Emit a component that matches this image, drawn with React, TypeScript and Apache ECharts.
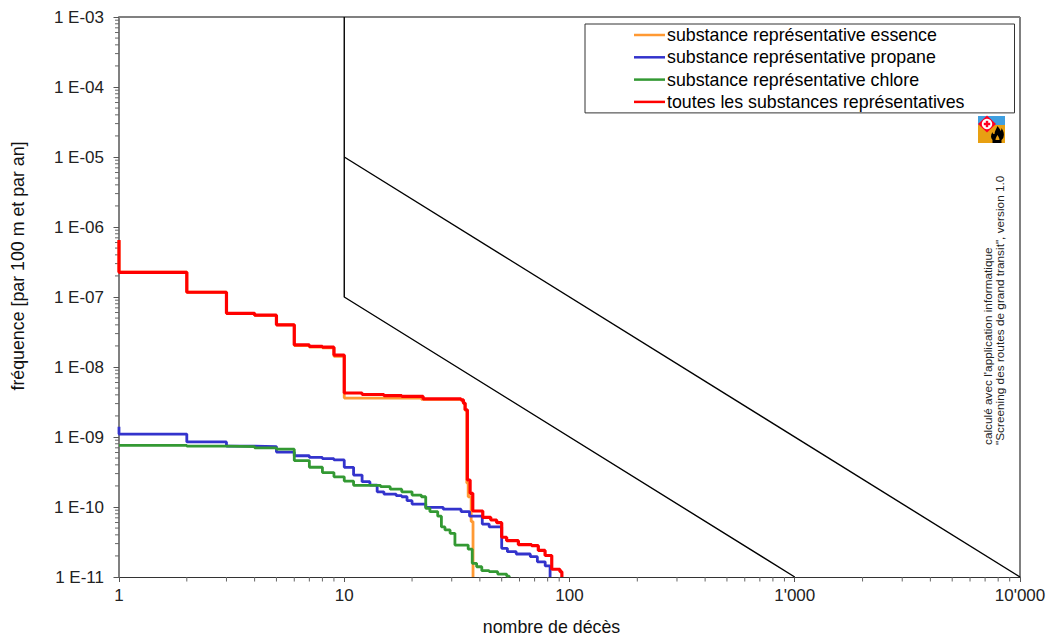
import React, { useEffect, useRef } from "react";
import * as echarts from "echarts";

const xMajorLabels: Record<number, string> = { 0: "1", 1: "10", 2: "100", 3: "1'000", 4: "10'000" };
const xMinorTicks = [2,3,4,5,6,7,8,9,20,30,40,50,60,70,80,90,200,300,400,500,600,700,800,900,2000,3000,4000,5000,6000,7000,8000,9000];
const yMinorTicks = [-11,-10,-9,-8,-7,-6,-5,-4].flatMap((e) => [2,3,4,5,6,7,8,9].map((m) => Number(`${m}e${e}`)));

const names = [
  "substance représentative essence",
  "substance représentative propane",
  "substance représentative chlore",
  "toutes les substances représentatives",
];

const essence = [[1,6.4e-7],[1,2.27e-7],[2,1.17e-7],[3,5.85e-8],[4,5.45e-8],[5,4.0e-8],[6,2.03e-8],[7,1.93e-8],[8,1.88e-8],[9,1.42e-8],[10,3.6e-9],[15,3.6e-9],[22,3.45e-9],[33,3.35e-9],[33.8,3.0e-9],[34.4,2.4e-9],[35,2.2e-10],[35.5,1.4e-10],[36.6,6.2e-11],[37.3,1e-11]];
const propane = [[1,1.4e-9],[1,1.1e-9],[2,8.5e-10],[3,7.4e-10],[4,7.3e-10],[5,6.1e-10],[6,5.4e-10],[7,5.1e-10],[8,4.9e-10],[9,4.7e-10],[10,3.69e-10],[11,2.86e-10],[12,2.3e-10],[13,2.06e-10],[14,1.65e-10],[15,1.53e-10],[17,1.45e-10],[18,1.4e-10],[19,1.23e-10],[20,1.1e-10],[23,9.9e-11],[27.5,9.3e-11],[33,8.6e-11],[36,7.4e-11],[41,5.7e-11],[44,5.2e-11],[50,2.57e-11],[53,2.3e-11],[58,2.13e-11],[67,1.95e-11],[72,1.65e-11],[78,1.44e-11],[82,1e-11]];
const chlore = [[1,7.6e-10],[2,7.4e-10],[3,7.3e-10],[4,7.0e-10],[5,6.7e-10],[6,4.6e-10],[7,3.7e-10],[8,3.1e-10],[9,2.7e-10],[10,2.35e-10],[11,2.04e-10],[14.5,1.95e-10],[16,1.8e-10],[18,1.65e-10],[20,1.48e-10],[22,1.4e-10],[23,9.6e-11],[24,8.6e-11],[26,7.4e-11],[27,5.2e-11],[28,4.7e-11],[29.5,4.2e-11],[31,2.86e-11],[35.5,2.5e-11],[37,1.57e-11],[38.7,1.4e-11],[40.8,1.23e-11],[44,1.19e-11],[48,1.1e-11],[52.6,1.03e-11],[54,1e-11]];
const toutes = [[1,6.5e-7],[1,2.25e-7],[2,1.17e-7],[3,5.85e-8],[4,5.5e-8],[5,4.0e-8],[6,2.07e-8],[7,1.97e-8],[8,1.92e-8],[9,1.48e-8],[10,4.25e-9],[12,4.05e-9],[15,3.9e-9],[18,3.8e-9],[22.4,3.5e-9],[33,3.4e-9],[33.8,3.05e-9],[34.4,2.45e-9],[35.2,2.43e-10],[36.2,1.57e-10],[37.2,8.77e-11],[41.2,7.13e-11],[44.7,6.52e-11],[47.5,5.97e-11],[50,3.7e-11],[52.6,3.3e-11],[59.3,2.9e-11],[67.9,2.8e-11],[72.7,2.4e-11],[77.9,2.03e-11],[83.4,1.29e-11],[90.7,1.19e-11],[92.5,1e-11]];
const limitUpper = [[10,1e-3],[10,1e-7],[1000,1e-11]];
const limitLower = [[10,1e-5],[10000,1e-11]];

const colors = ["#ff9933", "#3333cc", "#339933", "#ff0000"];
const FONT = "'Liberation Sans', Arial, sans-serif";
const FLAME = "M8 0 C9 2 11 3 11 5 C12 4 12 3 12 2 C14 5 15 8 14 11 C14 12 13 13 12 14 L12 17 L3 17 L3 14 C1 12 1 9 3 6 C3 8 4 8 5 8 C5 5 7 3 8 0 Z M6 14 L10 14 C10 12 9 11 8 9 C7 11 6 12 6 14 Z";

export default function App() {
  const ref = useRef<HTMLDivElement>(null);
  useEffect(() => {
    document.body.style.margin = "0";
    echarts.graphic.registerShape("flame", echarts.graphic.extendPath(FLAME, {}));
    const chart = echarts.init(ref.current!, null, { renderer: "svg" });
    const stepSeries = (i: number, data: number[][], width: number) => ({
      type: "line", name: names[i], data, step: "end", showSymbol: false, symbol: "none",
      lineStyle: { color: colors[i], width }, itemStyle: { color: colors[i] }, z: 3 + i, clip: true,
    });
    const limit = (data: number[][]) => ({
      type: "line", data, showSymbol: false, symbol: "none", lineStyle: { color: "#000", width: 1.4 }, z: 2,
    });
    chart.setOption({
      animation: false,
      textStyle: { fontFamily: FONT },
      grid: { left: 119, top: 17, right: 30, bottom: 60, outerBoundsMode: "none" },
      legend: {
        data: names, orient: "vertical", left: 585, top: 24,
        padding: [2, 50, 2, 49], itemWidth: 31, itemHeight: 14, itemGap: 4.3,
        borderColor: "#333", borderWidth: 1, backgroundColor: "#fff",
        icon: "path://M0 6.5 H31 V9 H0 Z",
        textStyle: { fontSize: 17.8, color: "#000", fontFamily: FONT, padding: [0, 0, 0, -3] },
      },
      xAxis: {
        type: "log", logBase: 10, min: 1, max: 10000, interval: 1,
        name: "nombre de décès", nameLocation: "middle", nameGap: 41,
        nameTextStyle: { fontSize: 17.8, color: "#111", fontFamily: FONT, padding: [0, 36, 0, 0] },
        splitLine: { show: false }, minorTick: { show: false },
        axisLine: { show: true, lineStyle: { color: "#333", width: 1.2 } },
        axisTick: { show: true, length: 5, lineStyle: { color: "#555" } },
        axisLabel: {
          fontSize: 17, color: "#222", margin: 10, showMinLabel: true, showMaxLabel: true,
          formatter: (v: number) => xMajorLabels[Math.round(Math.log10(v))] ?? "",
        },
      },
      yAxis: {
        type: "log", logBase: 10, min: 1e-11, max: 1e-3, interval: 1,
        name: "fréquence [par 100 m et par an]", nameLocation: "middle", nameGap: 92,
        nameTextStyle: { fontSize: 17.8, color: "#111", fontFamily: FONT, padding: [0, 0, 0, 62] },
        splitLine: { show: false }, minorTick: { show: false },
        axisLine: { show: true, lineStyle: { color: "#808080", width: 2 } },
        axisTick: { show: true, length: 5.5, lineStyle: { color: "#555" } },
        axisLabel: {
          fontSize: 17, color: "#222", margin: 15, showMinLabel: true, showMaxLabel: true, padding: [0, 0, 2, 0],
          formatter: (v: number) => {
            const e = Math.round(-Math.log10(v));
            return `1 E-${String(e).padStart(2, "0")}`;
          },
        },
      },
      graphic: [
        { type: "line", shape: { x1: 119, y1: 17, x2: 1020, y2: 17 }, style: { stroke: "#808080", lineWidth: 2 }, z: 1 },
        { type: "line", shape: { x1: 1020, y1: 17, x2: 1020, y2: 577 }, style: { stroke: "#808080", lineWidth: 2 }, z: 1 },
        { type: "rect", shape: { x: 978, y: 116, width: 27, height: 9 }, style: { fill: "#3f9fe0" }, z: 10 },
        { type: "rect", shape: { x: 978, y: 125, width: 27, height: 18 }, style: { fill: "#e8a012" }, z: 10 },
        { type: "polygon", shape: { points: [[987, 115.5], [996, 124], [987, 132.5], [978, 124]] }, style: { fill: "#ff0022" }, z: 11 },
        { type: "circle", shape: { cx: 987, cy: 124, r: 5.2 }, style: { fill: "#fff" }, z: 12 },
        { type: "rect", shape: { x: 985.8, y: 120.8, width: 2.4, height: 6.4 }, style: { fill: "#ff0022" }, z: 13 },
        { type: "rect", shape: { x: 983.8, y: 122.8, width: 6.4, height: 2.4 }, style: { fill: "#ff0022" }, z: 13 },
        { type: "flame", x: 989.5, y: 126, scaleX: 1, scaleY: 1, style: { fill: "#000" }, z: 13 },
        { type: "text", x: 987.5, y: 445, rotation: Math.PI / 2, style: { text: "calculé avec l'application informatique", font: `11.8px ${FONT}`, fill: "#222", textAlign: "left", textVerticalAlign: "middle" }, z: 10 },
        { type: "text", x: 999.5, y: 445, rotation: Math.PI / 2, style: { text: "\"Screening des routes de grand transit\", version 1.0", font: `11.8px ${FONT}`, fill: "#222", textAlign: "left", textVerticalAlign: "middle" }, z: 10 },
      ],
      series: [
        limit(limitUpper),
        limit(limitLower),
        stepSeries(0, essence, 2.8),
        stepSeries(1, propane, 2.8),
        stepSeries(2, chlore, 2.8),
        stepSeries(3, toutes, 3.2),
        {
          type: "custom", silent: true, z: 1, clip: false,
          data: xMinorTicks.map((v) => [v, 1e-11]),
          encode: { x: 0, y: 1 },
          renderItem: (_: unknown, api: any) => {
            const c = api.coord([api.value(0), api.value(1)]);
            return { type: "line", shape: { x1: c[0], y1: c[1], x2: c[0], y2: c[1] + 4.5 }, style: { stroke: "#666", lineWidth: 1 } };
          },
        },
        {
          type: "custom", silent: true, z: 1, clip: false,
          data: yMinorTicks.map((v) => [1, v]),
          encode: { x: 0, y: 1 },
          renderItem: (_: unknown, api: any) => {
            const c = api.coord([api.value(0), api.value(1)]);
            return { type: "line", shape: { x1: c[0], y1: c[1], x2: c[0] - 4, y2: c[1] }, style: { stroke: "#666", lineWidth: 1 } };
          },
        },
      ],
    });
    return () => chart.dispose();
  }, []);
  return <div ref={ref} style={{ width: 1050, height: 637 }} />;
}
